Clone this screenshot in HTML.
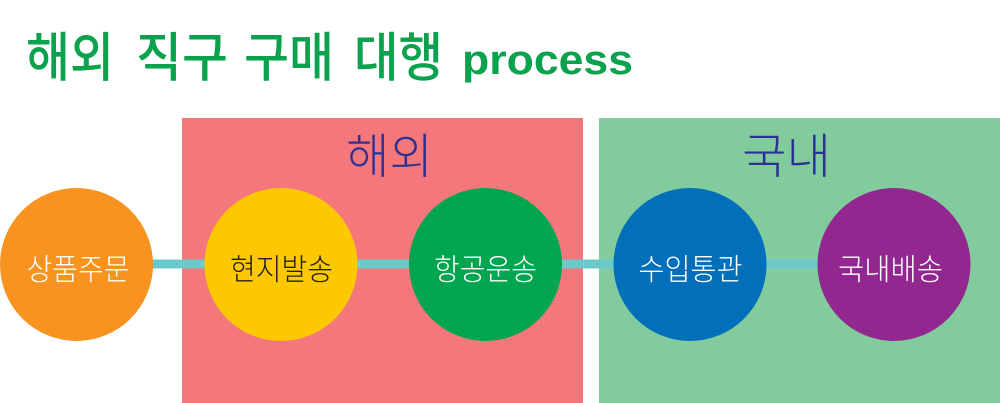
<!DOCTYPE html>
<html>
<head>
<meta charset="utf-8">
<style>
  html, body { margin: 0; padding: 0; background: #ffffff; }
  body { width: 1000px; height: 403px; overflow: hidden; }
  svg { display: block; }
  .t { font-family: "Liberation Sans", "Noto Sans CJK KR", "NanumGothic", sans-serif; }
</style>
</head>
<body>
<svg width="1000" height="403" viewBox="0 0 1000 403" xmlns="http://www.w3.org/2000/svg">
  <rect x="0" y="0" width="1000" height="403" fill="#ffffff"/>

  <!-- Title -->
  <g class="t" fill="#0ba24d" font-weight="500">
    <text x="26" y="76" font-size="53" textLength="88" lengthAdjust="spacingAndGlyphs">해외</text>
    <text x="136" y="76" font-size="53" textLength="92" lengthAdjust="spacingAndGlyphs">직구</text>
    <text x="244" y="76" font-size="53" textLength="90" lengthAdjust="spacingAndGlyphs">구매</text>
    <text x="354" y="76" font-size="53" textLength="89" lengthAdjust="spacingAndGlyphs">대행</text>
    <text x="462" y="74" font-size="42" font-weight="bold" textLength="171" lengthAdjust="spacingAndGlyphs">process</text>
  </g>

  <!-- Section boxes -->
  <rect x="182" y="118" width="401" height="285" fill="#f4787b"/>
  <rect x="599" y="118" width="401" height="285" fill="#82cb9c"/>

  <!-- Section labels -->
  <g class="t" fill="#2e3192" font-weight="300">
    <text x="346" y="173" font-size="48" textLength="87" lengthAdjust="spacingAndGlyphs">해외</text>
    <text x="742" y="173" font-size="48" textLength="89" lengthAdjust="spacingAndGlyphs">국내</text>
  </g>

  <!-- Connector -->
  <rect x="76" y="259.5" width="820" height="9" fill="#6cc9c9"/>

  <!-- Circles -->
  <circle cx="76.5" cy="264.5" r="76.5" fill="#f7931e"/>
  <circle cx="281" cy="264.5" r="76.5" fill="#fdc800"/>
  <circle cx="485.5" cy="264.5" r="76.5" fill="#00a54f"/>
  <circle cx="690" cy="264.5" r="76.5" fill="#016fba"/>
  <circle cx="894" cy="264.5" r="76.5" fill="#92278f"/>

  <!-- Circle labels -->
  <g class="t" font-size="30" font-weight="300" text-anchor="middle">
    <text x="78" y="280" fill="#ffffff" textLength="103" lengthAdjust="spacingAndGlyphs">상품주문</text>
    <text x="281.5" y="280" fill="#231f20" textLength="103" lengthAdjust="spacingAndGlyphs">현지발송</text>
    <text x="485.5" y="280" fill="#ffffff" textLength="103" lengthAdjust="spacingAndGlyphs">항공운송</text>
    <text x="690.5" y="280" fill="#ffffff" textLength="104" lengthAdjust="spacingAndGlyphs">수입통관</text>
    <text x="890.5" y="280" fill="#ffffff" textLength="105" lengthAdjust="spacingAndGlyphs">국내배송</text>
  </g>
</svg>
</body>
</html>
